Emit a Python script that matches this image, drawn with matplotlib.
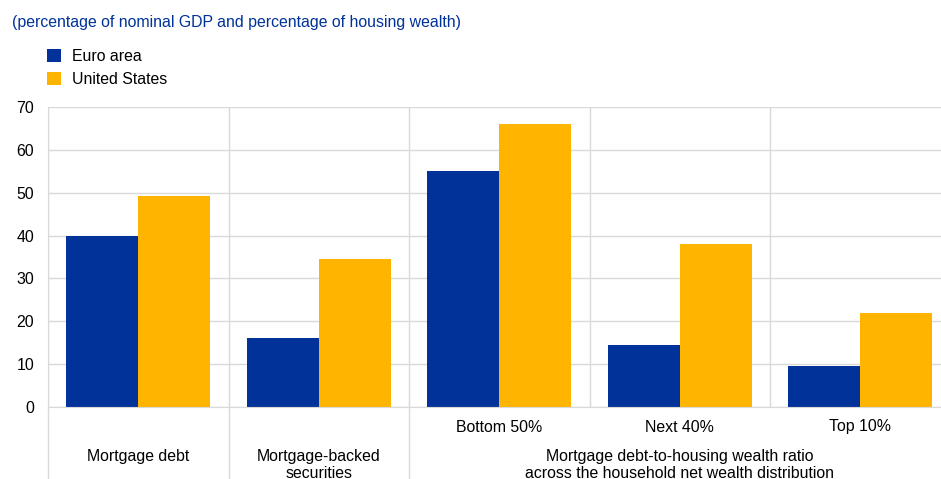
import matplotlib.pyplot as plt
import numpy as np

plt.rcParams['font.family'] = ['Liberation Sans', 'DejaVu Sans']

categories = ['Mortgage debt', 'Mortgage-backed\nsecurities', 'Bottom 50%', 'Next 40%', 'Top 10%']
euro_area = [40.0, 16.0, 55.0, 14.4, 9.6]
united_states = [49.2, 34.5, 66.0, 38.0, 21.9]
group_label = 'Mortgage debt-to-housing wealth ratio\nacross the household net wealth distribution'

blue = '#003299'
yellow = '#FFB400'
grid_col = '#d9d9d9'
fs = 11.4

W, H = 941, 479
fig = plt.figure(figsize=(W / 100, H / 100), dpi=100)
ax = fig.add_axes([48 / W, (H - 407) / H, (950.5 - 48) / W, 300 / H])

x = np.arange(len(categories))
bw = 0.4
ax.bar(x - bw / 2, euro_area, bw, color=blue, label='Euro area', zorder=3)
ax.bar(x + bw / 2, united_states, bw, color=yellow, label='United States', zorder=3)

ax.set_xlim(-0.5, len(categories) - 0.5)
ax.set_ylim(0, 70)
ax.set_yticks(range(0, 71, 10))
ax.set_xticks([])
ax.set_xticks(np.arange(-0.5, len(categories)), minor=True)
ax.tick_params(axis='both', which='both', length=0, labelsize=fs)
ax.tick_params(axis='y', pad=10)
ax.grid(axis='y', color=grid_col, lw=1, zorder=0)
ax.grid(axis='x', which='minor', color=grid_col, lw=1, zorder=0)
for s in ['top', 'right']:
    ax.spines[s].set_visible(False)
for s in ['left', 'bottom']:
    ax.spines[s].set_color(grid_col)
    ax.spines[s].set_zorder(4)

# separators running down through the label area
for xs in [-0.5, 0.5, 1.5]:
    ax.plot([xs, xs], [0, -17], color=grid_col, lw=1, clip_on=False)


def label(text, xpos, ytop):
    for k, line in enumerate(text.split('\n')):
        ax.annotate(line, (xpos, H - ytop - 17 * k), xycoords=('data', 'figure pixels'),
                    ha='center', va='center', fontsize=fs)


# category labels
for i in [0, 1]:
    label(categories[i], x[i], 456)
for i in [2, 3, 4]:
    label(categories[i], x[i], 427)
label(group_label, 3, 456)

fig.text(12 / W, (H - 22) / H, '(percentage of nominal GDP and percentage of housing wealth)',
         color=blue, fontsize=fs, ha='left', va='center')

fig.legend(loc='upper left', bbox_to_anchor=(47 / W, (H - 49) / H), frameon=False,
           fontsize=fs, handlelength=0.9, handleheight=0.9, handletextpad=0.7,
           labelspacing=0.5, borderpad=0, borderaxespad=0)

fig.savefig('out.png', dpi=100)
